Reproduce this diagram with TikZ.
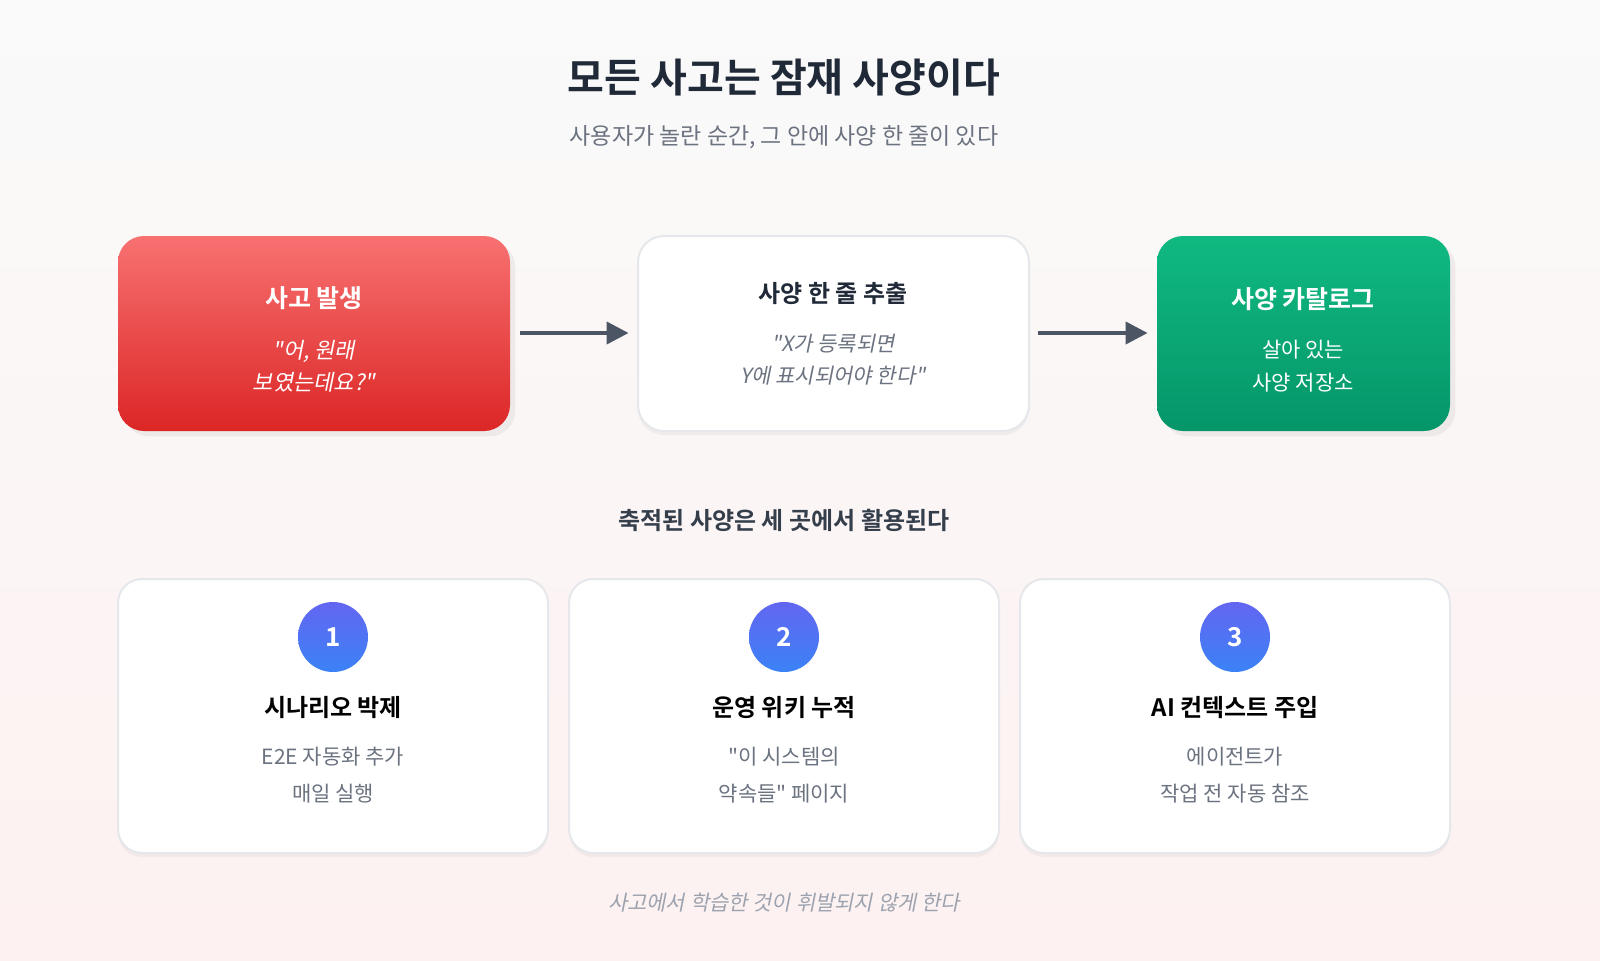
\documentclass[tikz,border=0pt]{standalone}
\usepackage{fontspec}
\setmainfont{Noto Sans CJK KR}[BoldFont={Noto Sans CJK KR Bold},ItalicFont={Noto Sans CJK KR},ItalicFeatures={FakeSlant=0.2},BoldItalicFont={Noto Sans CJK KR Bold},BoldItalicFeatures={FakeSlant=0.2}]
\usetikzlibrary{shadows,arrows.meta,calc}
\definecolor{dark}{HTML}{1F2937}
\definecolor{grayt}{HTML}{6B7280}
\definecolor{lgray}{HTML}{9CA3AF}
\definecolor{arr}{HTML}{4B5563}
\definecolor{bord}{HTML}{E5E7EB}
\definecolor{bgtop}{HTML}{FAFAFA}
\definecolor{bgbot}{HTML}{FDF1F1}
\definecolor{rtop}{HTML}{F87171}
\definecolor{rbot}{HTML}{DC2626}
\definecolor{gtop}{HTML}{10B981}
\definecolor{gbot}{HTML}{059669}
\definecolor{ctop}{HTML}{6366F1}
\definecolor{cbot}{HTML}{3B82F6}
\newcommand{\qq}{\textquotedbl}
\begin{document}
\begin{tikzpicture}[x=0.5pt,y=-0.5pt,
  card/.style={draw=bord,line width=1pt,fill=white,rounded corners=12pt,drop shadow={opacity=0.08,shadow xshift=0pt,shadow yshift=-2pt}},
  conn/.style={draw=arr,line width=2pt,-{Triangle[length=11pt,width=11pt]}},
  num/.style={circle,minimum size=35pt,inner sep=0pt,top color=ctop,bottom color=cbot,text=white,font=\bfseries\fontsize{13}{13}\selectfont},
]
\shade[top color=bgtop,bottom color=bgbot] (0,0) rectangle (1600,960);
\useasboundingbox (0,0) rectangle (1600,960);
\node[font=\bfseries\fontsize{20}{20}\selectfont,text=dark] (title) at (784,78) {모든 사고는 잠재 사양이다};
\node[font=\fontsize{11.5}{11.5}\selectfont,text=grayt] (sub) at (784,137) {사용자가 놀란 순간, 그 안에 사양 한 줄이 있다};
% boxes
\shade[top color=rtop,bottom color=rbot,rounded corners=13pt,drop shadow={opacity=0.1}] (118,236) rectangle (510,431);
\node (b1) at (314,333) [minimum width=196pt,minimum height=97pt] {};
\node[font=\bfseries\fontsize{12.5}{12.5}\selectfont,text=white] (b1t) at (314,298) {사고 발생};
\node[font=\itshape\fontsize{11}{16}\selectfont,text=white,align=center] (b1s) at (314,366) {\qq 어, 원래\\보였는데요?\qq};
\path[card,rounded corners=13pt] (638,236) rectangle (1029,431);
\node (b2) at (833,333) [minimum width=195pt,minimum height=97pt] {};
\node[font=\bfseries\fontsize{12}{12}\selectfont,text=dark] (b2t) at (833,294) {사양 한 줄 추출};
\node[font=\itshape\fontsize{10.5}{16}\selectfont,text=grayt,align=center] (b2s) at (833,360) {\qq X가 등록되면\\Y에 표시되어야 한다\qq};
\shade[top color=gtop,bottom color=gbot,rounded corners=13pt,drop shadow={opacity=0.1}] (1157,236) rectangle (1450,431);
\node (b3) at (1303,333) [minimum width=146pt,minimum height=97pt] {};
\node[font=\bfseries\fontsize{12.5}{12.5}\selectfont,text=white] (b3t) at (1303,299) {사양 카탈로그};
\node[font=\fontsize{10.5}{16.5}\selectfont,text=white,align=center] (b3s) at (1303,366) {살아 있는\\사양 저장소};
\draw[conn] ($(b1.east)+(10,0)$) -- ($(b2.west)+(-9,0)$);
\draw[conn] ($(b2.east)+(10,0)$) -- ($(b3.west)+(-9,0)$);
\node[font=\bfseries\fontsize{12}{12}\selectfont,text=dark!90] (h) at (784,520) {축적된 사양은 세 곳에서 활용된다};
% cards
\foreach \xa/\xb/\c/\n/\t/\la/\lb in {118/548/333/1/시나리오 박제/E2E 자동화 추가/매일 실행, 569/999/784/2/운영 위키 누적/\qq 이 시스템의/약속들\qq{} 페이지, 1020/1450/1235/3/AI 컨텍스트 주입/에이전트가/작업 전 자동 참조}{
  \path[card] (\xa,579) rectangle (\xb,853);
  \node[num] (n\n) at (\c,637) {\n};
  \node[font=\bfseries\fontsize{12}{12}\selectfont,text=black] (t\n) at (\c,707) {\t};
  \node[font=\fontsize{10.5}{18.5}\selectfont,text=grayt,align=center] (l\n) at (\c,775) {\la\\\lb};
}
\node[font=\itshape\fontsize{10.5}{10.5}\selectfont,text=lgray] (foot) at (784,903) {사고에서 학습한 것이 휘발되지 않게 한다};
\end{tikzpicture}
\end{document}
